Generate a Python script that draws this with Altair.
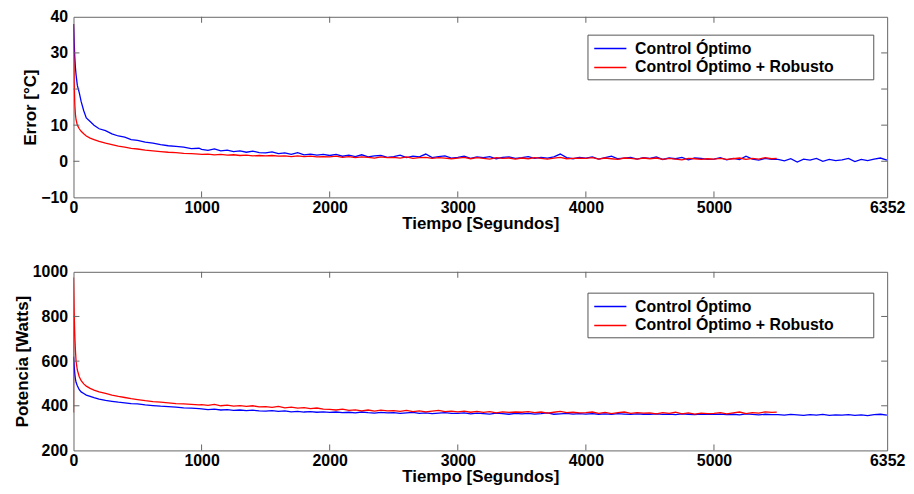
import altair as alt
import pandas as pd

SERIES = ["Control Óptimo", "Control Óptimo + Robusto"]
COLORS = ["#0000ff", "#ff0000"]

X_TICKS = [0, 1000, 2000, 3000, 4000, 5000, 6352]
ERR_TICKS = [-10, 0, 10, 20, 30, 40]
PW_TICKS = [200, 400, 600, 800, 1000]

# sample times
t_early = [0, 5, 10, 15, 20, 30, 45, 60, 80, 100, 130, 160, 200, 250, 300, 350,
           400, 450, 500, 560, 620, 680, 740, 800, 860, 920, 980]
t_late_blue = list(range(1000, 6351, 50))
t_late_red = list(range(1000, 5451, 50)) + [5490]

# Error [°C]
err_blue_early = [38, 33, 29, 26, 24, 21, 19, 16.5, 14, 12, 11, 10, 9.0, 8.5, 7.6, 7.0,
                  6.7, 6.0, 5.8, 5.3, 5.0, 4.6, 4.3, 4.1, 3.9, 3.5, 3.6]
err_blue_late = [3.3, 3.0, 3.4, 2.9, 3.1, 2.7, 2.9, 2.5, 2.8, 2.4,
                 2.3, 2.6, 2.1, 2.3, 1.9, 2.4, 1.8, 2.0, 1.7, 1.9,
                 1.6, 1.9, 1.4, 1.7, 1.3, 1.8, 1.2, 1.5, 1.6, 1.1,
                 1.3, 1.7, 1.0, 1.4, 1.2, 2.0, 1.0, 1.3, 1.5, 0.9,
                 1.1, 1.4, 0.8, 1.2, 1.0, 1.3, 0.7, 1.1, 1.2, 0.8,
                 1.0, 1.3, 0.8, 1.1, 0.9, 1.2, 2.0, 1.0, 0.7, 1.1,
                 0.9, 1.2, 0.6, 1.0, 1.4, 0.7, 0.9, 1.1, 0.6, 1.0,
                 0.8, 1.2, 0.5, 0.9, 0.7, 1.1, 0.4, 0.9, 0.8, 0.5,
                 0.6, 1.0, 0.4, 0.8, 0.5, 1.4, 0.6, 0.3, 0.8, 0.5,
                 0.5, 0.1, 0.7, -0.2, 0.6, 0.3, 0.8, 0.0, 0.5, 0.2,
                 0.4, 0.8, -0.1, 0.5, 0.2, 0.6, 0.9, 0.3]
err_red_early = [38, 22, 16, 13, 11.5, 10, 9.0, 8.3, 7.6, 7.0, 6.4, 6.0, 5.5, 5.0, 4.6, 4.2,
                 3.9, 3.6, 3.4, 3.1, 2.9, 2.7, 2.5, 2.4, 2.2, 2.1, 2.0]
err_red_late = [1.9, 2.0, 1.8, 1.9, 1.7, 1.8, 1.6, 1.7, 1.5, 1.6,
                1.5, 1.6, 1.4, 1.5, 1.3, 1.5, 1.3, 1.4, 1.2, 1.3,
                1.2, 1.4, 1.1, 1.3, 1.0, 1.2, 1.1, 0.9, 1.2, 1.0,
                1.1, 0.9, 1.2, 0.8, 1.0, 1.1, 0.8, 1.0, 0.9, 0.7,
                0.9, 1.1, 0.7, 1.0, 0.8, 0.6, 1.0, 0.8, 0.9, 0.6,
                0.9, 0.7, 1.0, 0.8, 0.6, 0.9, 1.1, 0.7, 0.8, 0.9,
                0.8, 1.0, 0.6, 0.9, 0.7, 0.5, 0.9, 0.8, 0.6, 0.9,
                0.7, 0.9, 0.5, 0.8, 0.6, 0.4, 0.8, 0.7, 0.5, 0.7,
                0.6, 0.8, 0.5, 0.7, 0.9, 0.5, 0.8, 0.6, 1.0, 0.7,
                0.8]

# Potencia [Watts]
pw_blue_early = [620, 580, 545, 520, 505, 490, 472, 462, 455, 448, 442, 436, 430, 424, 420, 416,
                 413, 410, 408, 404, 401, 398, 396, 394, 391, 389, 387]
pw_blue_late = [386, 383, 385, 381, 383, 379, 381, 378, 380, 377,
                376, 378, 375, 377, 373, 375, 372, 374, 371, 373,
                370, 372, 369, 371, 368, 372, 369, 367, 370, 368,
                369, 366, 368, 370, 366, 368, 365, 367, 369, 366,
                366, 368, 364, 367, 365, 363, 367, 365, 362, 366,
                364, 366, 363, 365, 368, 362, 364, 366, 363, 365,
                363, 365, 362, 364, 361, 365, 363, 361, 364, 362,
                362, 364, 361, 363, 360, 364, 362, 360, 363, 361,
                361, 363, 360, 362, 359, 364, 361, 359, 362, 360,
                360, 358, 361, 359, 357, 360, 358, 361, 357, 359,
                358, 360, 357, 359, 356, 360, 362, 358]
t_red_pw_early = [0] + t_early
pw_red_early = [370, 975, 820, 720, 650, 600, 560, 530, 512, 498, 488, 478, 470, 462, 455, 448,
                442, 437, 432, 428, 423, 419, 416, 413, 410, 408, 406, 404]
pw_red_late = [405, 402, 406, 400, 403, 398, 401, 397, 400, 395,
               396, 393, 397, 391, 394, 389, 392, 387, 390, 385,
               384, 381, 385, 379, 382, 377, 381, 376, 380, 377,
               378, 375, 379, 374, 377, 373, 376, 379, 374, 376,
               373, 376, 371, 375, 370, 374, 368, 373, 370, 372,
               371, 374, 369, 372, 367, 371, 375, 369, 371, 368,
               369, 372, 366, 370, 365, 369, 372, 366, 369, 367,
               368, 364, 369, 366, 371, 364, 368, 363, 367, 365,
               366, 369, 364, 368, 372, 365, 369, 367, 373, 370,
               372]


def series_df(t_list, v_list, name):
    return pd.DataFrame({"t": t_list, "v": v_list, "serie": name,
                         "i": list(range(len(t_list)))})


err_df = pd.concat([
    series_df(t_early + t_late_blue, err_blue_early + err_blue_late, SERIES[0]),
    series_df(t_early + t_late_red, err_red_early + err_red_late, SERIES[1]),
])
pw_df = pd.concat([
    series_df(t_early + t_late_blue, pw_blue_early + pw_blue_late, SERIES[0]),
    series_df(t_red_pw_early + t_late_red, pw_red_early + pw_red_late, SERIES[1]),
])

W = 820
FRAME = "#666666"
FONT = "Liberation Sans"
# trailing no-break spaces (kept by a final zero-width space) widen the legend box
PAD = "\u00a0" * 8 + "\u200b"


def panel(df, ytitle, ydomain, yticks, h, lx, ly):
    x = alt.X("t:Q", scale=alt.Scale(domain=[0, 6352], nice=False, zero=False),
              axis=alt.Axis(values=X_TICKS, title="Tiempo [Segundos]", labelPadding=2,
                            titlePadding=0, labelFlush=False, labelOverlap=False, format="d"))
    y = alt.Y("v:Q", scale=alt.Scale(domain=ydomain, nice=False, zero=False),
              axis=alt.Axis(values=yticks, title=ytitle, labelPadding=6, titlePadding=1,
                            labelFlush=False, labelOverlap=False, format="d"))
    lines = alt.Chart(df).mark_line(strokeWidth=1.3, clip=True).encode(
        x=x, y=y,
        color=alt.Color("serie:N", scale=alt.Scale(domain=SERIES, range=COLORS),
                        legend=alt.Legend(orient="none", legendX=lx, legendY=ly, title=None,
                                          direction="vertical", strokeColor="#555555",
                                          fillColor="white", padding=4,
                                          symbolType="M-1.8,0H1.8", symbolSize=324,
                                          symbolStrokeWidth=1.5, symbolOffset=9,
                                          labelFont=FONT, labelFontWeight="bold",
                                          labelFontSize=16, labelColor="black", labelLimit=500,
                                          labelOffset=15, rowPadding=1, cornerRadius=0,
                                          labelExpr="datum.label + '" + PAD + "'")),
        order="i:Q",
    )
    xt = pd.DataFrame({"t": X_TICKS[1:-1]})
    yt = pd.DataFrame({"v": yticks[1:-1]})
    tb = alt.Chart(xt).mark_rule(color=FRAME).encode(x=x, y=alt.value(h), y2=alt.value(h - 6))
    tt = alt.Chart(xt).mark_rule(color=FRAME).encode(x=x, y=alt.value(0), y2=alt.value(6))
    tl = alt.Chart(yt).mark_rule(color=FRAME).encode(y=y, x=alt.value(0), x2=alt.value(6))
    tr = alt.Chart(yt).mark_rule(color=FRAME).encode(y=y, x=alt.value(W), x2=alt.value(W - 6))
    return alt.layer(lines, tb, tt, tl, tr).properties(width=W, height=h)


top = panel(err_df, "Error [°C]", [-10, 40], ERR_TICKS, 182, 518, 18)
bottom = panel(pw_df, "Potencia [Watts]", [200, 1000], PW_TICKS, 180, 518, 21)

chart = alt.vconcat(top, bottom, spacing=31).resolve_legend(color="independent").properties(
    padding={"left": 4, "top": -2, "right": 0, "bottom": 0},
    background="white",
).configure(font=FONT).configure_view(stroke=FRAME, strokeWidth=1).configure_axis(
    domain=False, ticks=False, tickSize=0, grid=False,
    labelFont=FONT, labelFontSize=16, labelFontWeight="bold", labelColor="black",
    titleFont=FONT, titleFontSize=17, titleFontWeight="bold", titleColor="black",
)

chart.save("out.html", embed_options={"renderer": "svg", "actions": False})
